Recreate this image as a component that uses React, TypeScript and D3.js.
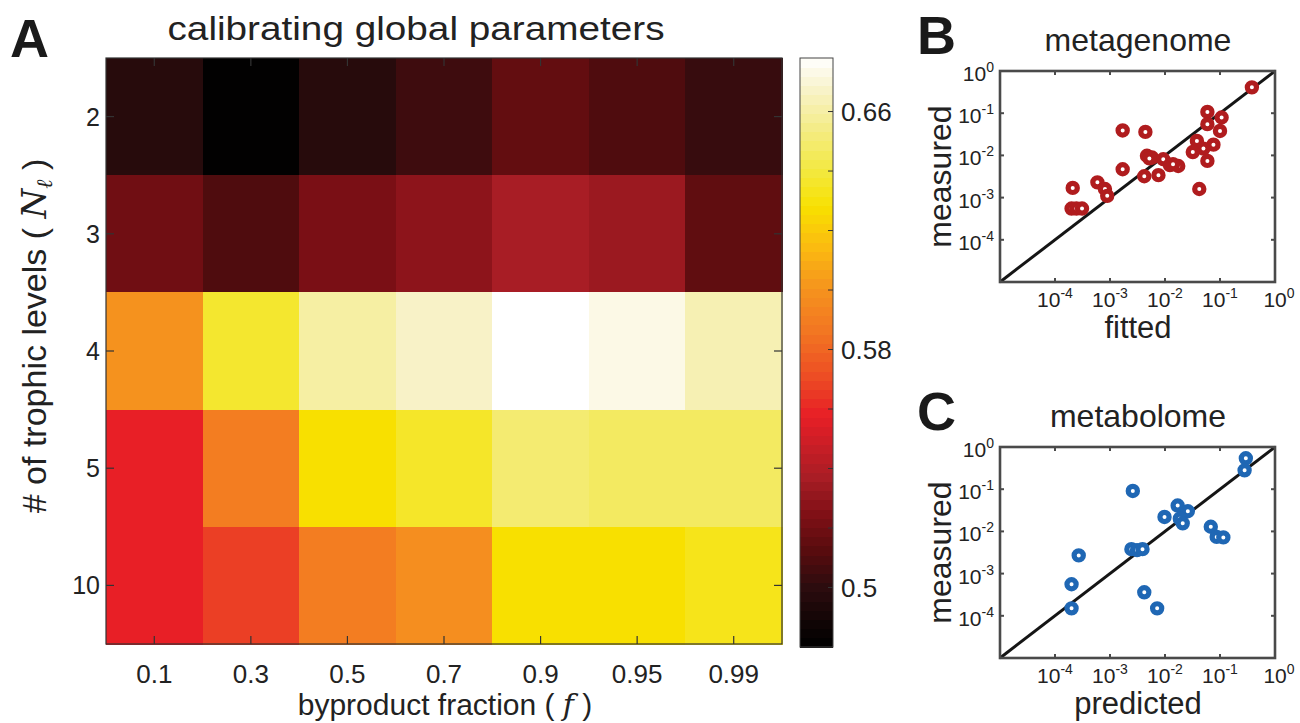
import * as d3 from 'd3';
import { useRef, useEffect } from 'react';

// --- data ---
const fractions = ["0.1", "0.3", "0.5", "0.7", "0.9", "0.95", "0.99"];
const levels = ["2", "3", "4", "5", "10"];

// calibration score per trophic level (rows), one value per byproduct fraction
const level2 = [0.498, 0.481, 0.498, 0.505, 0.516, 0.510, 0.503];
const level3 = [0.520, 0.510, 0.523, 0.529, 0.537, 0.533, 0.515];
const level4 = [0.600, 0.637, 0.660, 0.667, 0.678, 0.673, 0.663];
const level5 = [0.558, 0.590, 0.628, 0.636, 0.650, 0.647, 0.647];
const level10 = [0.558, 0.567, 0.590, 0.598, 0.628, 0.628, 0.633];

const colorTicks = [0.5, 0.52, 0.54, 0.56, 0.58, 0.6, 0.62, 0.64, 0.66];
const colorLabels = [0.5, 0.58, 0.66];

// panel B: metagenome fitted vs measured
const genomeFitted = [0.38, 0.059, 0.107, 0.059, 0.10, 0.038, 0.076, 0.050, 0.032, 0.059, 0.042,
  0.0017, 0.0044, 0.0047, 0.0058, 0.0052, 0.0093, 0.0123, 0.0174, 0.014, 0.0017, 0.0042, 0.0076,
  0.00059, 0.00081, 0.00089, 0.00021, 0.0002, 0.000245, 0.00031];
const genomeMeasured = [0.41, 0.107, 0.079, 0.055, 0.038, 0.022, 0.018, 0.0145, 0.012, 0.0074, 0.0016,
  0.039, 0.036, 0.0098, 0.0089, 0.0085, 0.0081, 0.0059, 0.0056, 0.0062, 0.0047, 0.0032, 0.0034,
  0.0023, 0.0016, 0.0011, 0.0017, 0.00055, 0.00055, 0.00055];

// panel C: metabolome predicted vs measured
const metabPredicted = [0.295, 0.28, 0.0026, 0.017, 0.026, 0.0098, 0.0186, 0.021, 0.068, 0.087, 0.115,
  0.00245, 0.0031, 0.0039, 0.00027, 0.0002, 0.0002, 0.0042, 0.0072];
const metabMeasured = [0.54, 0.28, 0.091, 0.041, 0.030, 0.022, 0.020, 0.0155, 0.0129, 0.0074, 0.0072,
  0.0038, 0.0036, 0.0038, 0.0027, 0.00056, 0.00015, 0.00036, 0.00015];

const logTicks = [1e-5, 1e-4, 1e-3, 1e-2, 1e-1, 1];
const logLabels = [-4, -3, -2, -1, 0];

const FONT = "'Liberation Sans', Arial, Helvetica, sans-serif";

export default function App() {
  const ref = useRef<SVGSVGElement>(null);

  useEffect(() => {
    const svg = d3.select(ref.current);
    svg.selectAll("*").remove();
    svg.attr("font-family", FONT);

    // --- colour map (hot-like, black -> red -> yellow -> white) ---
    const cmap = d3.scaleLinear<string>()
      .domain([0.48, 0.49, 0.5, 0.512, 0.525, 0.537, 0.55, 0.558, 0.57, 0.585, 0.6, 0.615, 0.628, 0.64, 0.655, 0.668, 0.678])
      .range(["#000000", "#140606", "#2c0c0e", "#560c0e", "#801016", "#a81d25", "#d01e26", "#e81f26",
        "#ec4a24", "#f27322", "#f5921e", "#fbbc10", "#f8e000", "#f3e93e", "#f4ec8a", "#f8f3cc", "#ffffff"])
      .interpolate(d3.interpolateRgb)
      .clamp(true);

    // --- Panel A: heatmap ---
    const matrix = [level2, level3, level4, level5, level10];
    const x = d3.scaleBand().domain(fractions).range([106, 782]);
    const y = d3.scaleBand().domain(levels).range([58, 644]);

    const cells = matrix.flatMap((row, i) => row.map((v, j) => ({ level: levels[i], f: fractions[j], v })));
    svg.append("g")
      .selectAll("rect")
      .data(cells)
      .join("rect")
      .attr("x", d => x(d.f)!)
      .attr("y", d => y(d.level)!)
      .attr("width", x.bandwidth() + 0.5)
      .attr("height", y.bandwidth() + 0.5)
      .attr("fill", d => cmap(d.v))
      .attr("shape-rendering", "crispEdges");

    const frame = svg.append("g").attr("stroke", "#333").attr("stroke-width", 1.2);
    frame.append("rect")
      .attr("x", 106).attr("y", 58).attr("width", 676).attr("height", 586)
      .attr("fill", "none");
    fractions.forEach(f => {
      const cx = x(f)! + x.bandwidth() / 2;
      frame.append("line").attr("x1", cx).attr("x2", cx).attr("y1", 644).attr("y2", 636);
      frame.append("line").attr("x1", cx).attr("x2", cx).attr("y1", 58).attr("y2", 66);
    });
    levels.forEach(l => {
      const cy = y(l)! + y.bandwidth() / 2;
      frame.append("line").attr("x1", 106).attr("x2", 114).attr("y1", cy).attr("y2", cy);
      frame.append("line").attr("x1", 782).attr("x2", 774).attr("y1", cy).attr("y2", cy);
    });

    svg.append("g").selectAll("text").data(fractions).join("text")
      .attr("x", d => x(d)! + x.bandwidth() / 2)
      .attr("y", 683)
      .attr("text-anchor", "middle")
      .attr("font-size", 26)
      .attr("fill", "#222")
      .text(d => d);

    svg.append("g").selectAll("text").data(levels).join("text")
      .attr("x", 100)
      .attr("y", d => y(d)! + y.bandwidth() / 2 + 9)
      .attr("text-anchor", "end")
      .attr("font-size", 25)
      .attr("fill", "#222")
      .text(d => d);

    const xl = svg.append("text")
      .attr("x", 445).attr("y", 715)
      .attr("text-anchor", "middle").attr("font-size", 30).attr("fill", "#222");
    xl.append("tspan").text("byproduct fraction ( ");
    xl.append("tspan").attr("font-style", "italic").attr("font-family", "'DejaVu Serif', serif").text("f");
    xl.append("tspan").text(" )");

    const yl = svg.append("text")
      .attr("transform", "translate(46,336) rotate(-90)")
      .attr("text-anchor", "middle").attr("font-size", 34).attr("fill", "#222");
    yl.append("tspan").text("# of trophic levels ( ");
    yl.append("tspan").attr("font-style", "italic").attr("font-family", "'DejaVu Serif', serif").text("N");
    yl.append("tspan").attr("font-style", "italic").attr("font-family", "'DejaVu Serif', serif")
      .attr("font-size", 22).attr("dy", 6).text("ℓ");
    yl.append("tspan").attr("dy", -6).text(" )");

    svg.append("text")
      .attr("x", 416).attr("y", 40)
      .attr("text-anchor", "middle").attr("font-size", 33).attr("fill", "#222")
      .attr("textLength", 497).attr("lengthAdjust", "spacingAndGlyphs")
      .text("calibrating global parameters");

    svg.append("text")
      .attr("x", 10).attr("y", 57)
      .attr("font-size", 54).attr("font-weight", "bold").attr("fill", "#1a1a1a")
      .text("A");

    // --- colour bar ---
    const cbY = d3.scaleLinear().domain([0.48, 0.678]).range([647, 58]);
    const nSteps = 64;
    const steps = d3.range(nSteps).map(i => 0.48 + (i * (0.678 - 0.48)) / nSteps);
    const stepH = (647 - 58) / nSteps;
    svg.append("g").selectAll("rect").data(steps).join("rect")
      .attr("x", 800).attr("width", 33)
      .attr("y", d => cbY(d) - stepH)
      .attr("height", stepH + 0.6)
      .attr("fill", d => cmap(d + (0.678 - 0.48) / nSteps / 2))
      .attr("shape-rendering", "crispEdges");
    svg.append("rect")
      .attr("x", 800).attr("y", 58).attr("width", 33).attr("height", 589)
      .attr("fill", "none").attr("stroke", "#444").attr("stroke-width", 1);
    svg.append("g").selectAll("line").data(colorTicks).join("line")
      .attr("x1", 833).attr("x2", 828)
      .attr("y1", d => cbY(d)).attr("y2", d => cbY(d))
      .attr("stroke", "#333").attr("stroke-width", 1);
    svg.append("g").selectAll("text").data(colorLabels).join("text")
      .attr("x", 841)
      .attr("y", d => cbY(d) + 9)
      .attr("font-size", 26).attr("fill", "#222")
      .text(d => d3.format("")(d));

    // --- scatter panels ---
    function scatter(opts: {
      top: number; letter: string; title: string; xlabel: string;
      xs: number[]; ys: number[]; color: string;
    }) {
      const { top, letter, title, xlabel, xs, ys, color } = opts;
      const left = 1000, right = 1275, bottom = top + 211;
      const sx = d3.scaleLog().domain([1e-5, 1]).range([left, right]);
      const sy = d3.scaleLog().domain([1e-5, 1]).range([bottom, top]);
      const g = svg.append("g");

      g.append("rect")
        .attr("x", left).attr("y", top).attr("width", right - left).attr("height", bottom - top)
        .attr("fill", "white");

      // diagonal
      g.append("line")
        .attr("x1", sx(1e-5)).attr("y1", sy(1e-5)).attr("x2", sx(1)).attr("y2", sy(1))
        .attr("stroke", "#151515").attr("stroke-width", 3);

      // points
      const pts = xs.map((v, i) => [v, ys[i]]);
      g.append("g").selectAll("circle").data(pts).join("circle")
        .attr("cx", d => sx(d[0]))
        .attr("cy", d => sy(d[1]))
        .attr("r", 4.6)
        .attr("fill", "white")
        .attr("stroke", color)
        .attr("stroke-width", 5.2);

      // box + ticks
      g.append("rect")
        .attr("x", left).attr("y", top).attr("width", right - left).attr("height", bottom - top)
        .attr("fill", "none").attr("stroke", "#4a4a4a").attr("stroke-width", 2.6);
      const tk = g.append("g").attr("stroke", "#4a4a4a").attr("stroke-width", 2);
      logTicks.slice(1, -1).forEach(t => {
        tk.append("line").attr("x1", sx(t)).attr("x2", sx(t)).attr("y1", bottom).attr("y2", bottom - 4);
        tk.append("line").attr("x1", sx(t)).attr("x2", sx(t)).attr("y1", top).attr("y2", top + 4);
        tk.append("line").attr("x1", left).attr("x2", left + 4).attr("y1", sy(t)).attr("y2", sy(t));
        tk.append("line").attr("x1", right).attr("x2", right - 4).attr("y1", sy(t)).attr("y2", sy(t));
      });

      // x tick labels
      logLabels.forEach(e => {
        const t = g.append("text")
          .attr("x", sx(Math.pow(10, e)) + (e === 0 ? 4 : 0)).attr("y", bottom + 25)
          .attr("text-anchor", "middle").attr("font-size", 21).attr("fill", "#222");
        t.append("tspan").text("10");
        t.append("tspan").attr("font-size", 14).attr("dy", -9).text(e === 0 ? "0" : `-${-e}`);
      });
      // y tick labels
      logLabels.forEach(e => {
        const t = g.append("text")
          .attr("x", left - 6).attr("y", sy(Math.pow(10, e)) + 10)
          .attr("text-anchor", "end").attr("font-size", 21).attr("fill", "#222");
        t.append("tspan").text("10");
        t.append("tspan").attr("font-size", 14).attr("dy", -9).text(e === 0 ? "0" : `-${-e}`);
      });

      g.append("text")
        .attr("x", 1138).attr("y", bottom + 56)
        .attr("text-anchor", "middle").attr("font-size", 31).attr("fill", "#222")
        .text(xlabel);
      g.append("text")
        .attr("transform", `translate(951,${(top + bottom) / 2}) rotate(-90)`)
        .attr("text-anchor", "middle").attr("font-size", 32).attr("fill", "#222")
        .text("measured");
      g.append("text")
        .attr("x", 1138).attr("y", top - 20)
        .attr("text-anchor", "middle").attr("font-size", 32).attr("fill", "#222")
        .text(title);
      g.append("text")
        .attr("x", 917).attr("y", top - 17)
        .attr("font-size", 54).attr("font-weight", "bold").attr("fill", "#1a1a1a")
        .text(letter);
    }

    scatter({ top: 71, letter: "B", title: "metagenome", xlabel: "fitted",
      xs: genomeFitted, ys: genomeMeasured, color: "#b01c1e" });
    scatter({ top: 447, letter: "C", title: "metabolome", xlabel: "predicted",
      xs: metabPredicted, ys: metabMeasured, color: "#1f67b4" });
  }, []);

  return (
    <svg ref={ref} width={1300} height={723}
      style={{ position: "absolute", left: 0, top: 0, background: "white" }} />
  );
}
